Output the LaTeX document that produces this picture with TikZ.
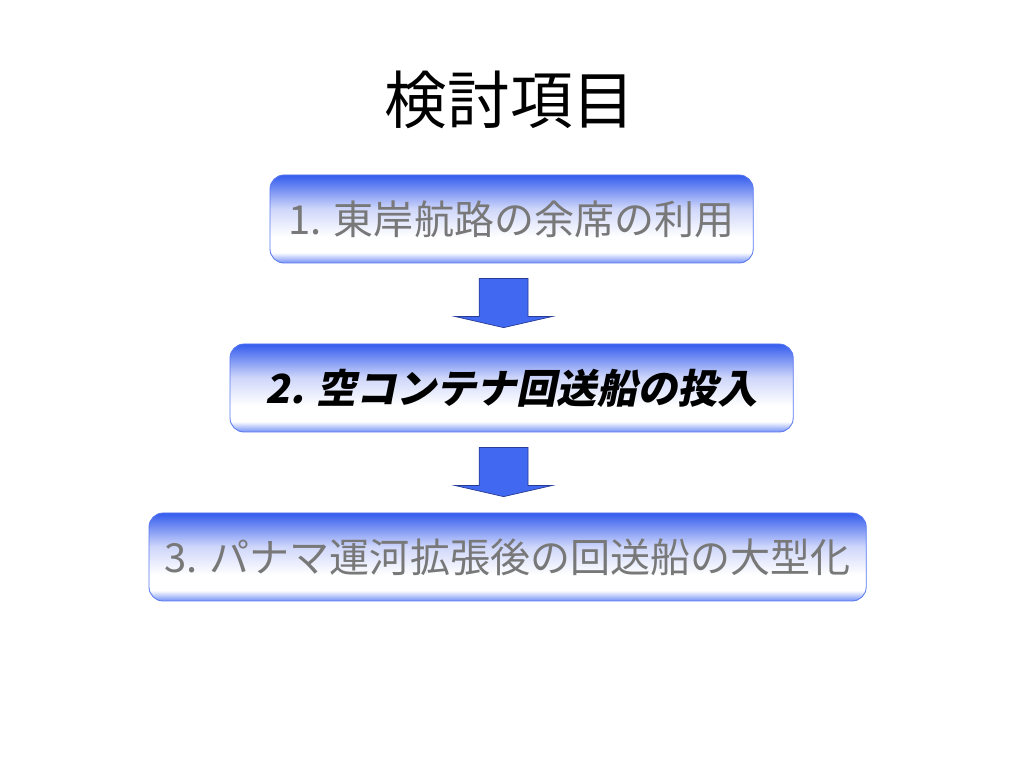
\documentclass[tikz,border=0pt]{standalone}
\usepackage{fontspec}
\setmainfont{Noto Sans CJK JP}
\newfontfamily\cjkslant[FakeSlant=0.2]{Noto Sans CJK JP}
\usetikzlibrary{calc}

\definecolor{boxblue}{RGB}{52,92,238}
\definecolor{boxpale}{RGB}{118,146,246}
\definecolor{boxmist}{RGB}{206,214,250}
\definecolor{boxline}{RGB}{88,120,240}
\definecolor{arrowblue}{RGB}{64,104,240}
\definecolor{arrowline}{RGB}{40,60,150}
\definecolor{labelgray}{RGB}{120,120,120}

\pgfdeclareverticalshading{boxfade}{100bp}{%
  color(0bp)=(boxpale); color(25bp)=(boxpale); color(31bp)=(white);
  color(40bp)=(white); color(56bp)=(boxmist); color(75bp)=(boxblue);
  color(100bp)=(boxblue)}

\tikzset{
  itembox/.style={draw=boxline, line width=0.6pt, rounded corners=10pt,
    shading=boxfade, minimum height=2.2cm, inner sep=0pt,
    font=\fontsize{28.5}{34}\selectfont},
  flowarrow/.style={draw=arrowline, line width=0.5pt, fill=arrowblue}
}

\begin{document}
\begin{tikzpicture}
   \useasboundingbox (0,0) rectangle (25.6,19.2);
   \path (12.75,16.7) node (title) {\fontsize{44.5}{52}\selectfont 検討項目};
   \path (12.79,13.725) node[itembox, minimum width=12.08cm, text=labelgray] (item1)
     {1. 東岸航路の余席の利用};
   \path (12.79,9.5) node[itembox, minimum width=14.08cm] (item2)
     {\cjkslant\bfseries 2. 空コンテナ回送船の投入};
   \path (12.69,5.275) node[itembox, minimum width=17.93cm, text=labelgray] (item3)
     {3. パナマ運河拡張後の回送船の大型化};
   % block arrows between the boxes
   \coordinate (a1) at ($(item1.south)+(-0.2,-0.375)$);
   \coordinate (a2) at ($(item2.south)+(-0.2,-0.375)$);
   \foreach \a in {a1,a2}
     \draw[flowarrow] (\a) ++(-0.61,0) -- ++(0,-0.95) -- ++(-0.615,0)
       -- ++(1.225,-0.28) -- ++(1.225,0.28) -- ++(-0.615,0) -- ++(0,0.95) -- cycle;
\end{tikzpicture}
\end{document}
